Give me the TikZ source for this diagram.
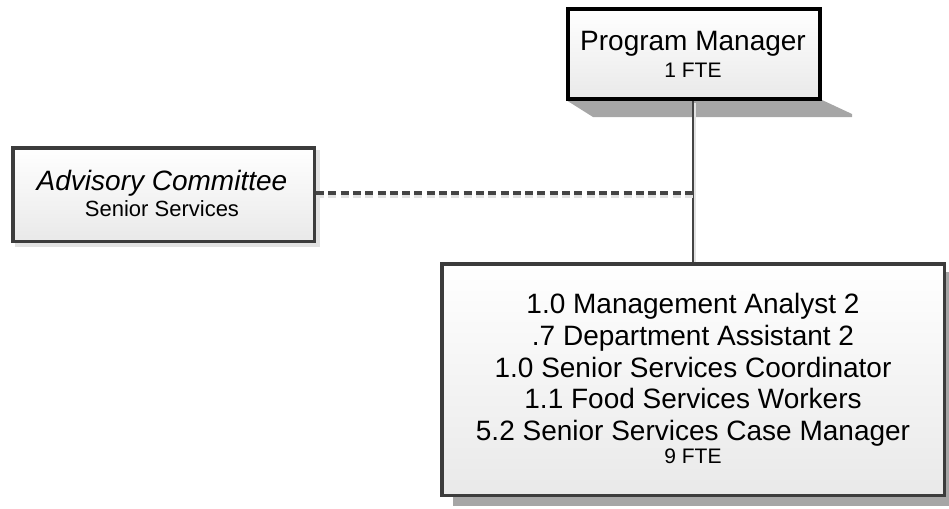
\documentclass[tikz,border=0pt]{standalone}
\usepackage{fontspec}
\setmainfont{Liberation Sans}
\definecolor{bordk}{HTML}{3C3C3C}
\definecolor{shad}{HTML}{A6A6A6}
\definecolor{lshad}{HTML}{E2E2E2}
\definecolor{boxbot}{HTML}{E9E9E9}
\definecolor{conn}{HTML}{444444}
\begin{document}
\begin{tikzpicture}[x=1pt,y=-1pt,
  orgbox/.style={rectangle, line width=3.5pt, top color=white, bottom color=boxbot, inner sep=0pt},
  bigtxt/.style={anchor=base, inner sep=0pt, font=\fontsize{28}{30}\selectfont},
  midtxt/.style={anchor=base, inner sep=0pt, font=\fontsize{22}{24}\selectfont},
  smalltxt/.style={anchor=base, inner sep=0pt, font=\fontsize{21}{23}\selectfont},
  solidconn/.style={line width=2.5pt, draw=conn},
  dotconn/.style={line width=3.5pt, draw=conn, dash pattern=on 8pt off 4.3pt}
]
\useasboundingbox (0,0) rectangle (949,508);
% shadows
\fill[shad] (566,100) -- (822,100) -- (852,114) -- (852,117) -- (593,117) -- cycle;
\fill[shad] (453,272) rectangle (960,506);
\fill[lshad] (15,150) rectangle (320,247);
% boxes
\node[orgbox, draw=black, line width=4pt, minimum width=252pt, minimum height=90pt] (pm) at (694,54) {};
\node[orgbox, draw=bordk, minimum width=301.5pt, minimum height=93.5pt] (ac) at (163.5,194.5) {};
\node[orgbox, draw=bordk, minimum width=502.5pt, minimum height=231.5pt] (st) at (693,379.5) {};
% connectors
\coordinate (j) at (693,193);
\draw[lshad, line width=2.5pt] ([xshift=2pt,yshift=-2pt]pm.south -| j) -- ([xshift=2pt]st.north -| j);
\draw[solidconn] (pm.south -| j) -- (st.north -| j);
\draw[lshad, line width=3.5pt, dash pattern=on 8pt off 4.3pt] ([yshift=-3pt]ac.east |- j) -- ([yshift=-3pt]j);
\draw[dotconn] (ac.east |- j) -- (j);
% texts
\node[bigtxt] (pmt) at (693,51) {Program Manager};
\node[smalltxt] (pmf) at (693,78) {1 FTE};
\node[bigtxt] (act) at (162,190) {\itshape Advisory Committee};
\node[midtxt] (acs) at (162,216) {Senior Services};
\node[bigtxt] (s1) at (693,313) {1.0 Management Analyst 2};
\node[bigtxt] (s2) at (693,345) {.7 Department Assistant 2};
\node[bigtxt] (s3) at (693,377) {1.0 Senior Services Coordinator};
\node[bigtxt] (s4) at (693,408) {1.1 Food Services Workers};
\node[bigtxt] (s5) at (693,440) {5.2 Senior Services Case Manager};
\node[smalltxt] (s6) at (693,463) {9 FTE};
\end{tikzpicture}
\end{document}
